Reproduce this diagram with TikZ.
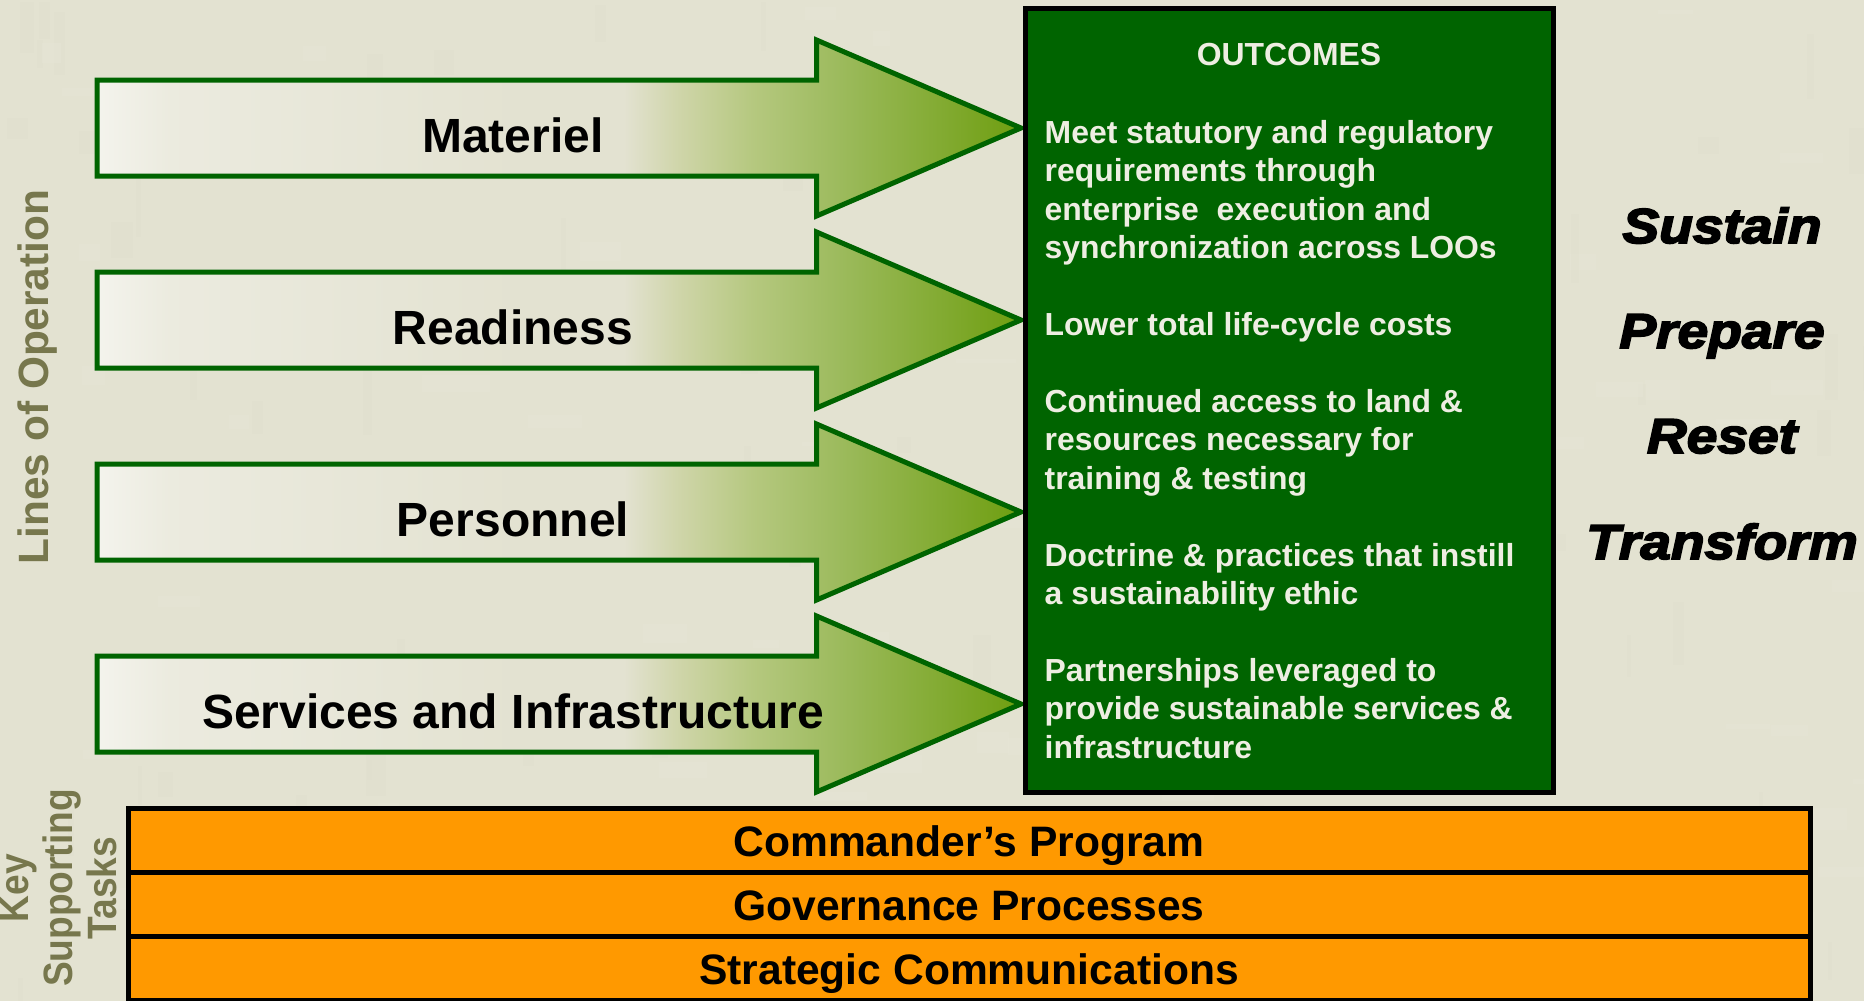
\documentclass[tikz,border=0pt]{standalone}
\usepackage{fontspec}
\setmainfont{Liberation Sans}
\newfontfamily\heavyfont{Liberation Sans}[BoldItalicFeatures={FakeBold=3.6,FakeStretch=1.125}]
\newfontfamily\narrowfont{Liberation Sans}[BoldFeatures={FakeStretch=0.905}]
\usetikzlibrary{calc}
\definecolor{bgcol}{HTML}{E3E2D1}
\definecolor{bglight}{HTML}{E7E6D8}
\definecolor{bgdark}{HTML}{DFDECC}
\definecolor{loogreen}{HTML}{006400}
\definecolor{oliveink}{HTML}{77774D}
\definecolor{orangebar}{HTML}{FF9900}
\definecolor{paleink}{HTML}{EEEEE2}
\definecolor{fadea}{HTML}{CFD5A9}
\definecolor{fadem}{HTML}{B5C87F}
\definecolor{fadeb}{HTML}{9DBB5E}
\definecolor{fadec}{HTML}{6E9E10}
\colorlet{fadep}{white!60!bgcol}
\colorlet{fadeq}{white!30!bgcol}
\pgfdeclarehorizontalshading{arrowfade}{100bp}{
  color(0bp)=(fadep);
  color(25bp)=(fadep);
  color(29bp)=(fadeq);
  color(48bp)=(bgcol);
  color(53.5bp)=(bgcol);
  color(56.5bp)=(fadea);
  color(60.5bp)=(fadem);
  color(65bp)=(fadeb);
  color(75bp)=(fadec);
  color(100bp)=(fadec)}
\tikzset{
  x=1pt,y=1pt,
  arrowblock/.style={draw=loogreen,line width=5pt,miter limit=10,shading=arrowfade},
  arrowlabel/.style={anchor=base,inner sep=0pt,font=\fontsize{48}{50}\selectfont\bfseries,text=black},
  outbox/.style={draw=black,fill=loogreen,line width=5pt},
  outtext/.style={inner sep=0pt,text=paleink,font=\fontsize{31.9}{38.44}\selectfont\bfseries},
  barbox/.style={draw=black,fill=orangebar,line width=5pt},
  barlabel/.style={anchor=base,inner sep=0pt,font=\fontsize{42.6}{46}\selectfont\bfseries,text=black},
  sidelabel/.style={anchor=base,inner sep=0pt,font=\fontsize{49}{52}\selectfont\heavyfont\bfseries\itshape,text=black},
  leftlabel/.style={inner sep=0pt,text=oliveink,rotate=90,font=\fontsize{42.4}{44}\selectfont\bfseries,align=center},
  keylabel/.style={inner sep=0pt,text=oliveink,rotate=90,font=\fontsize{41}{44}\selectfont\narrowfont\bfseries,align=center},
}
\newcommand{\loarrow}[3]{%
  \path[arrowblock] (97,#1-48) -- (816.5,#1-48) -- (816.5,#1-88) -- (1021,#1) -- (816.5,#1+88) -- (816.5,#1+48) -- (97,#1+48) -- cycle;
  \node[arrowlabel] (#2) at (513,#1+24) {#3};
}
\begin{document}
\begin{tikzpicture}[yscale=-1]
\useasboundingbox (0,0) rectangle (1864,1001);
\fill[bgcol] (0,0) rectangle (1864,1001);
\begin{scope}
\clip (0,0) rectangle (1864,1001);
\pgfmathsetseed{17}
\foreach \i in {1,...,220}{
  \pgfmathsetmacro{\bx}{random(0,1864)}
  \pgfmathsetmacro{\by}{random(0,1001)}
  \pgfmathsetmacro{\bw}{random(15,70)}
  \pgfmathsetmacro{\bh}{random(4,22)}
  \pgfmathtruncatemacro{\bk}{random(0,1)}
  \ifnum\bk=0 \fill[bglight,opacity=.35] (\bx,\by) rectangle ++(\bw,\bh);
  \else \fill[bgdark,opacity=.3] (\bx,\by) rectangle ++(\bh,\bw);\fi
}
\loarrow{128}{materiel}{Materiel}
\loarrow{320}{readiness}{Readiness}
\loarrow{512}{personnel}{Personnel}
\loarrow{704}{services}{Services and Infrastructure}
\path[outbox] (1025.5,8.5) rectangle (1553,792);
\node[outtext,anchor=base] (outhead) at (1289,65.5) {OUTCOMES};
\node[outtext,anchor=north west,align=left] (outlist) at (1044.5,120) {Meet statutory and regulatory\\requirements through\\enterprise\ \ execution and\\synchronization across LOOs\\[38.44pt]Lower total life-cycle costs\\[38.44pt]Continued access to land \&\\resources necessary for\\training \& testing\\[38.44pt]Doctrine \& practices that instill\\a sustainability ethic\\[38.44pt]Partnerships leveraged to\\provide sustainable services \&\\infrastructure};
\node[sidelabel] (sustain) at (1722,243) {Sustain};
\node[sidelabel] (prepare) at (1722,348) {Prepare};
\node[sidelabel] (reset) at (1722,453) {Reset};
\node[sidelabel] (transform) at (1722,559) {Transform};
\path[barbox] (128,808) rectangle (1810,872);
\path[barbox] (128,872) rectangle (1810,936);
\path[barbox] (128,936) rectangle (1810,1000);
\node[barlabel] (commander) at (969,856) {Commander’s Program};
\node[barlabel] (governance) at (969,920) {Governance Processes};
\node[barlabel] (strategic) at (969,984) {Strategic Communications};
\node[leftlabel] (loo) at (38,377) {Lines of Operation};
\node[keylabel] (kst) at (58.5,888) {Key\\Supporting\\Tasks};
\end{scope}
\end{tikzpicture}
\end{document}
